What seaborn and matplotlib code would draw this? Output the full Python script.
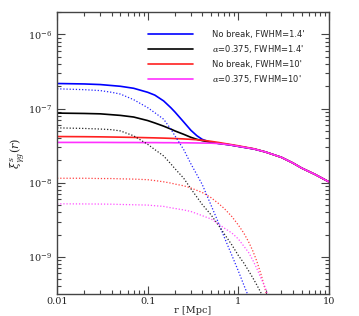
"""Projected cross-correlation profiles: no-break vs alpha=0.375 models."""

import matplotlib
matplotlib.use("Agg")
import matplotlib.pyplot as plt
import seaborn as sns
from matplotlib.lines import Line2D
from matplotlib.ticker import LogLocator, NullFormatter

# radius grids [Mpc]
r_solid = [0.01, 0.02, 0.03, 0.05, 0.07, 0.1, 0.12, 0.15, 0.18, 0.2, 0.25, 0.3,
           0.35, 0.4, 0.5, 0.6, 0.8, 1.0, 1.5, 2.0, 3.0, 4.0, 5.0, 7.0, 10.0]
r_dot = [0.01, 0.02, 0.03, 0.04, 0.05, 0.07, 0.1, 0.12, 0.15, 0.18, 0.2, 0.25,
         0.3, 0.4, 0.5, 0.6, 0.7, 0.85, 1.0, 1.15, 1.3, 1.45, 1.6, 1.8, 2.0, 2.2]

# solid: total profiles
nobreak_14 = [2.18e-7, 2.15e-7, 2.11e-7, 2.0e-7, 1.88e-7, 1.66e-7, 1.52e-7, 1.27e-7,
              1.03e-7, 9.0e-8, 6.6e-8, 5.1e-8, 4.3e-8, 3.85e-8, 3.5e-8, 3.4e-8,
              3.25e-8, 3.1e-8, 2.85e-8, 2.6e-8, 2.2e-8, 1.85e-8, 1.58e-8, 1.3e-8, 1.03e-8]
alpha_14 = [8.7e-8, 8.6e-8, 8.5e-8, 8.1e-8, 7.7e-8, 6.9e-8, 6.4e-8, 5.8e-8,
            5.3e-8, 5.0e-8, 4.5e-8, 4.1e-8, 3.85e-8, 3.7e-8, 3.5e-8, 3.4e-8,
            3.25e-8, 3.1e-8, 2.85e-8, 2.6e-8, 2.2e-8, 1.85e-8, 1.58e-8, 1.3e-8, 1.03e-8]
nobreak_10 = [4.2e-8, 4.18e-8, 4.16e-8, 4.12e-8, 4.09e-8, 4.05e-8, 4.03e-8, 4.0e-8,
              3.97e-8, 3.95e-8, 3.9e-8, 3.85e-8, 3.8e-8, 3.75e-8, 3.62e-8, 3.5e-8,
              3.3e-8, 3.15e-8, 2.87e-8, 2.6e-8, 2.2e-8, 1.85e-8, 1.58e-8, 1.3e-8, 1.03e-8]
alpha_10 = [3.5e-8, 3.5e-8, 3.5e-8, 3.49e-8, 3.49e-8, 3.48e-8, 3.48e-8, 3.47e-8,
            3.47e-8, 3.46e-8, 3.46e-8, 3.45e-8, 3.44e-8, 3.43e-8, 3.42e-8, 3.38e-8,
            3.25e-8, 3.1e-8, 2.85e-8, 2.6e-8, 2.2e-8, 1.85e-8, 1.58e-8, 1.3e-8, 1.03e-8]

# dotted: inner components (drop below the plot)
nobreak_14_d = [1.85e-7, 1.8e-7, 1.75e-7, 1.66e-7, 1.57e-7, 1.32e-7, 1.03e-7, 8.8e-8,
                7.2e-8, 5.3e-8, 4.3e-8, 2.8e-8, 1.8e-8, 9.5e-9, 5.0e-9, 2.95e-9,
                1.85e-9, 1.05e-9, 6.5e-10, 4.2e-10, 2.9e-10, 2.0e-10, 1.5e-10,
                1.0e-10, 7e-11, 5e-11]
alpha_14_d = [5.5e-8, 5.4e-8, 5.3e-8, 5.2e-8, 5.0e-8, 4.3e-8, 3.3e-8, 2.8e-8,
              2.3e-8, 1.8e-8, 1.55e-8, 1.15e-8, 8.3e-9, 5.1e-9, 3.7e-9, 2.7e-9,
              2.05e-9, 1.45e-9, 1.05e-9, 8.3e-10, 6.5e-10, 5.2e-10, 4.2e-10,
              3.2e-10, 2.4e-10, 1.8e-10]
nobreak_10_d = [1.15e-8, 1.15e-8, 1.14e-8, 1.14e-8, 1.13e-8, 1.12e-8, 1.1e-8, 1.07e-8,
                1.03e-8, 9.9e-9, 9.6e-9, 9.1e-9, 8.5e-9, 7.4e-9, 6.3e-9, 5.3e-9,
                4.5e-9, 3.5e-9, 2.7e-9, 2.1e-9, 1.6e-9, 1.2e-9, 8.8e-10,
                5.6e-10, 3.5e-10, 2.2e-10]
alpha_10_d = [5.2e-9, 5.18e-9, 5.16e-9, 5.14e-9, 5.1e-9, 5.05e-9, 5.0e-9, 4.9e-9,
              4.8e-9, 4.6e-9, 4.5e-9, 4.3e-9, 4.1e-9, 3.6e-9, 3.25e-9, 2.8e-9,
              2.45e-9, 2.1e-9, 1.75e-9, 1.4e-9, 1.15e-9, 9.0e-10, 7.0e-10,
              5.0e-10, 3.8e-10, 2.6e-10]

labels = ["No break, FWHM=1.4'", "$\\alpha$=0.375, FWHM=1.4'",
          "No break, FWHM=10'", "$\\alpha$=0.375, FWHM=10'"]
colors = ["#0000ff", "#000000", "#ff2020", "#ff30ff"]

sns.set_theme(style="ticks")
plt.rcParams["font.family"] = ["DejaVu Serif"]
plt.rcParams["mathtext.fontset"] = "dejavuserif"

fig = plt.figure(figsize=(3.59, 3.16), dpi=100)
ax = fig.add_axes([0.159, 0.0696, 0.757, 0.892])

for vals, col in zip([nobreak_14, alpha_14, nobreak_10, alpha_10], colors):
    sns.lineplot(x=r_solid, y=vals, color=col, linewidth=1.2, sort=False,
                 estimator=None, ax=ax)
for vals, col in zip([nobreak_14_d, alpha_14_d, nobreak_10_d, alpha_10_d], colors):
    sns.lineplot(x=r_dot, y=vals, color=col, linewidth=0.9, linestyle=(0, (1, 1.5)),
                 sort=False, estimator=None, ax=ax, alpha=0.85)

ax.set_xscale("log")
ax.set_yscale("log")
ax.set_xlim(0.01, 10)
ax.set_ylim(3.16e-10, 2.0e-6)

ax.set_xticks([0.01, 0.1, 1, 10])
ax.set_xticklabels(["0.01", "0.1", "1", "10"])
ax.xaxis.set_minor_locator(LogLocator(base=10, subs=range(2, 10), numticks=20))
ax.xaxis.set_minor_formatter(NullFormatter())
ax.set_yticks([1e-9, 1e-8, 1e-7, 1e-6])
ax.set_yticklabels(["$10^{-9}$", "$10^{-8}$", "$10^{-7}$", "$10^{-6}$"])
ax.yaxis.set_minor_locator(LogLocator(base=10, subs=range(2, 10), numticks=20))
ax.yaxis.set_minor_formatter(NullFormatter())

ax.tick_params(which="both", direction="in", top=True, right=True,
               color="#444444", labelsize=7, width=0.8)
ax.tick_params(axis="x", pad=2.5)
ax.tick_params(which="major", length=6)
ax.tick_params(which="minor", length=3)
for sp in ax.spines.values():
    sp.set_color("#444444")
    sp.set_linewidth(1.0)

ax.set_xlabel("r [Mpc]", fontsize=7)
ax.xaxis.set_label_coords(0.5, -0.043)
ax.set_ylabel("$\\xi^{s}_{\\gamma g}(r)$", fontsize=8, labelpad=1)

handles = [Line2D([0], [0], color=c, linewidth=1.2) for c in colors]
ax.legend(handles, labels, loc="upper left", frameon=False,
          handlelength=5.4, labelspacing=0.55, handletextpad=2.3,
          bbox_to_anchor=(0.323, 0.95), borderaxespad=0,
          prop={"family": "DejaVu Sans", "size": 6})

fig.savefig("out.png", dpi=100)
plt.close(fig)
